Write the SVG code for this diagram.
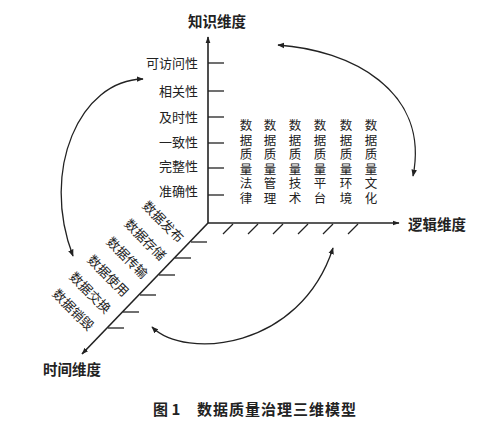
<svg xmlns="http://www.w3.org/2000/svg" width="500" height="430" viewBox="0 0 500 430">
<defs>
<marker id="ah" viewBox="0 0 10 10" refX="9" refY="5" markerWidth="7" markerHeight="7" orient="auto-start-reverse" markerUnits="userSpaceOnUse">
<path d="M0,1 L10,5 L0,9 Z" fill="#222"/>
</marker>
<marker id="ax" viewBox="0 0 10 10" refX="9" refY="5" markerWidth="7" markerHeight="7" orient="auto" markerUnits="userSpaceOnUse">
<path d="M0,1.5 L10,5 L0,8.5 Z" fill="#222"/>
</marker>
</defs>
<style>
text{font-family:"Noto Sans CJK SC","Noto Sans",sans-serif;fill:#222}
.lab{font-size:13px}
.ch{font-size:12.5px}
.ax{font-size:14.5px;font-weight:bold}
.cap{font-size:15px;font-weight:bold}
.axis{stroke:#222;stroke-width:1.6;fill:none}
.tick{stroke:#222;stroke-width:1.3;fill:none}
.arc{stroke:#222;stroke-width:1.3;fill:none}
</style>
<rect width="500" height="430" fill="#fff"/>
<g id="connectors">
<line class="axis" x1="208" y1="223" x2="208" y2="37" marker-end="url(#ax)"/>
<line class="axis" x1="208" y1="223" x2="399" y2="223" marker-end="url(#ax)"/>
<line class="axis" x1="208" y1="223" x2="82" y2="354" marker-end="url(#ax)"/>
<g class="tick">
<line x1="208" y1="63" x2="224" y2="63"/>
<line x1="208" y1="91" x2="224" y2="91"/>
<line x1="208" y1="117" x2="224" y2="117"/>
<line x1="208" y1="143" x2="224" y2="143"/>
<line x1="208" y1="168" x2="224" y2="168"/>
<line x1="208" y1="195" x2="224" y2="195"/>
<line x1="223" y1="234" x2="233" y2="224"/>
<line x1="248" y1="234" x2="258" y2="224"/>
<line x1="273" y1="234" x2="283" y2="224"/>
<line x1="298" y1="234" x2="308" y2="224"/>
<line x1="323" y1="234" x2="333" y2="224"/>
<line x1="348" y1="234" x2="358" y2="224"/>
<line x1="191" y1="242" x2="207" y2="242"/>
<line x1="175" y1="258" x2="191" y2="258"/>
<line x1="159" y1="275" x2="175" y2="275"/>
<line x1="140" y1="295" x2="156" y2="295"/>
<line x1="123" y1="312" x2="139" y2="312"/>
<line x1="108" y1="328" x2="124" y2="328"/>
</g>
<path class="arc" d="M143,79 C80,80 40,170 73,256" marker-start="url(#ah)" marker-end="url(#ah)"/>
<path class="arc" d="M278,45 C350,50 430,90 413,176" marker-start="url(#ah)" marker-end="url(#ah)"/>
<path class="arc" d="M152,327 C185,360 300,350 333,248" marker-start="url(#ah)" marker-end="url(#ah)"/>
</g>
<g id="axis-knowledge"><text class="ax" x="217" y="27" text-anchor="middle">知识维度</text></g>
<g id="axis-logic"><text class="ax" x="408" y="230">逻辑维度</text></g>
<g id="axis-time"><text class="ax" x="72" y="375" text-anchor="middle">时间维度</text></g>
<g id="knowledge-labels" class="lab">
<text x="198" y="68" text-anchor="end">可访问性</text>
<text x="198" y="96" text-anchor="end">相关性</text>
<text x="198" y="122" text-anchor="end">及时性</text>
<text x="198" y="147" text-anchor="end">一致性</text>
<text x="198" y="171" text-anchor="end">完整性</text>
<text x="198" y="196" text-anchor="end">准确性</text>
</g>
<g id="logic-law" class="ch" text-anchor="middle">
<text x="246" y="130">数</text><text x="246" y="144.5">据</text><text x="246" y="159">质</text><text x="246" y="173.5">量</text><text x="246" y="188">法</text><text x="246" y="202.5">律</text>
</g>
<g id="logic-management" class="ch" text-anchor="middle">
<text x="270" y="130">数</text><text x="270" y="144.5">据</text><text x="270" y="159">质</text><text x="270" y="173.5">量</text><text x="270" y="188">管</text><text x="270" y="202.5">理</text>
</g>
<g id="logic-technology" class="ch" text-anchor="middle">
<text x="295" y="130">数</text><text x="295" y="144.5">据</text><text x="295" y="159">质</text><text x="295" y="173.5">量</text><text x="295" y="188">技</text><text x="295" y="202.5">术</text>
</g>
<g id="logic-platform" class="ch" text-anchor="middle">
<text x="320" y="130">数</text><text x="320" y="144.5">据</text><text x="320" y="159">质</text><text x="320" y="173.5">量</text><text x="320" y="188">平</text><text x="320" y="202.5">台</text>
</g>
<g id="logic-environment" class="ch" text-anchor="middle">
<text x="346" y="130">数</text><text x="346" y="144.5">据</text><text x="346" y="159">质</text><text x="346" y="173.5">量</text><text x="346" y="188">环</text><text x="346" y="202.5">境</text>
</g>
<g id="logic-culture" class="ch" text-anchor="middle">
<text x="371" y="130">数</text><text x="371" y="144.5">据</text><text x="371" y="159">质</text><text x="371" y="173.5">量</text><text x="371" y="188">文</text><text x="371" y="202.5">化</text>
</g>
<g id="time-labels" class="lab" text-anchor="middle">
<text transform="translate(163,222) rotate(45)" y="4.5">数据发布</text>
<text transform="translate(145,240) rotate(45)" y="4.5">数据存储</text>
<text transform="translate(127,258) rotate(45)" y="4.5">数据传输</text>
<text transform="translate(108,276) rotate(45)" y="4.5">数据使用</text>
<text transform="translate(90,293) rotate(45)" y="4.5">数据交换</text>
<text transform="translate(73,310) rotate(45)" y="4.5">数据销毁</text>
</g>
<g id="caption"><text class="cap" x="153" y="415">图 1</text><text class="cap" x="197" y="415" letter-spacing="1">数据质量治理三维模型</text></g>
</svg>
